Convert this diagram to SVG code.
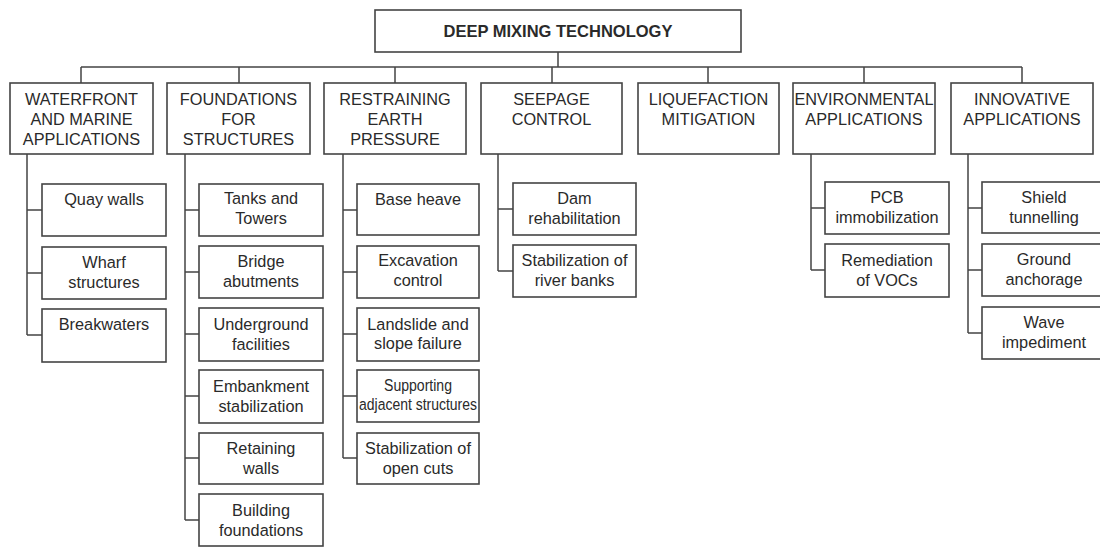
<svg xmlns="http://www.w3.org/2000/svg" width="1100" height="547" viewBox="0 0 1100 547">
<style>
.box{fill:#fff;stroke:#444;stroke-width:1.6}
.ln{fill:none;stroke:#444;stroke-width:1.5}
text{font-family:"Liberation Sans",Arial,sans-serif;fill:#2a2a2a;text-anchor:middle}
.h{font-size:16.3px}
.c{font-size:16.3px}
.t{font-size:16.5px;font-weight:bold}
</style>
<rect width="1100" height="547" fill="#fff"/>
<g id="connectors" class="ln">
<path d="M558 52V67M81 67H1022M81 67V83M239 67V83M395 67V83M552 67V83M708 67V83M864 67V83M1022 67V83"/>
<path d="M27 154V335M27 210H42M27 273H42M27 335H42"/>
<path d="M185 154V520M185 210H199M185 272H199M185 334H199M185 396H199M185 458H199M185 520H199"/>
<path d="M343 154V458M343 210H357M343 272H357M343 334H357M343 396H357M343 458H357"/>
<path d="M498 154V271M498 209H513M498 271H513"/>
<path d="M811 154V270M811 208H825M811 270H825"/>
<path d="M968 154V333M968 208H982M968 270H982M968 333H982"/>
</g>
<g id="title"><rect class="box" x="375" y="10" width="366" height="42"/><text class="t" x="558" y="37">DEEP MIXING TECHNOLOGY</text></g>
<g id="waterfront"><rect class="box" x="10" y="83" width="143" height="71"/><text class="h" x="81.5" y="105">WATERFRONT</text><text class="h" x="81.5" y="125">AND MARINE</text><text class="h" x="81.5" y="145">APPLICATIONS</text></g>
<g id="foundations"><rect class="box" x="167" y="83" width="143" height="71"/><text class="h" x="238.5" y="105">FOUNDATIONS</text><text class="h" x="238.5" y="125">FOR</text><text class="h" x="238.5" y="145">STRUCTURES</text></g>
<g id="restraining"><rect class="box" x="324" y="83" width="142" height="71"/><text class="h" x="395" y="105">RESTRAINING</text><text class="h" x="395" y="125">EARTH</text><text class="h" x="395" y="145">PRESSURE</text></g>
<g id="seepage"><rect class="box" x="481" y="83" width="141" height="71"/><text class="h" x="551.5" y="105">SEEPAGE</text><text class="h" x="551.5" y="125">CONTROL</text></g>
<g id="liquefaction"><rect class="box" x="638" y="83" width="141" height="71"/><text class="h" x="708.5" y="105">LIQUEFACTION</text><text class="h" x="708.5" y="125">MITIGATION</text></g>
<g id="environmental"><rect class="box" x="793" y="83" width="142" height="71"/><text class="h" x="864" y="105">ENVIRONMENTAL</text><text class="h" x="864" y="125">APPLICATIONS</text></g>
<g id="innovative"><rect class="box" x="951" y="83" width="142" height="71"/><text class="h" x="1022" y="105">INNOVATIVE</text><text class="h" x="1022" y="125">APPLICATIONS</text></g>

<g id="quay"><rect class="box" x="42" y="184" width="124" height="52"/><text class="c" x="104" y="205">Quay walls</text></g>
<g id="wharf"><rect class="box" x="42" y="247" width="124" height="52"/><text class="c" x="104" y="268">Wharf</text><text class="c" x="104" y="288">structures</text></g>
<g id="breakwaters"><rect class="box" x="42" y="309" width="124" height="53"/><text class="c" x="104" y="330">Breakwaters</text></g>

<g id="tanks"><rect class="box" x="199" y="184" width="124" height="52"/><text class="c" x="261" y="204">Tanks and</text><text class="c" x="261" y="224">Towers</text></g>
<g id="bridge"><rect class="box" x="199" y="246" width="124" height="52"/><text class="c" x="261" y="267">Bridge</text><text class="c" x="261" y="287">abutments</text></g>
<g id="underground"><rect class="box" x="199" y="308" width="124" height="53"/><text class="c" x="261" y="330">Underground</text><text class="c" x="261" y="350">facilities</text></g>
<g id="embankment"><rect class="box" x="199" y="370" width="124" height="53"/><text class="c" x="261" y="392">Embankment</text><text class="c" x="261" y="412">stabilization</text></g>
<g id="retaining"><rect class="box" x="199" y="433" width="124" height="51"/><text class="c" x="261" y="454">Retaining</text><text class="c" x="261" y="474">walls</text></g>
<g id="building"><rect class="box" x="199" y="494" width="124" height="52"/><text class="c" x="261" y="516">Building</text><text class="c" x="261" y="536">foundations</text></g>

<g id="baseheave"><rect class="box" x="357" y="184" width="122" height="51"/><text class="c" x="418" y="205">Base heave</text></g>
<g id="excavation"><rect class="box" x="357" y="246" width="122" height="52"/><text class="c" x="418" y="266">Excavation</text><text class="c" x="418" y="286">control</text></g>
<g id="landslide"><rect class="box" x="357" y="308" width="122" height="53"/><text class="c" x="418" y="330">Landslide and</text><text class="c" x="418" y="349">slope failure</text></g>
<g id="supporting"><rect class="box" x="357" y="370" width="122" height="52"/><text class="c" x="418" y="391" font-size="15" textLength="68" lengthAdjust="spacingAndGlyphs">Supporting</text><text class="c" x="418" y="410" font-size="15" textLength="118" lengthAdjust="spacingAndGlyphs">adjacent structures</text></g>
<g id="opencuts"><rect class="box" x="357" y="433" width="122" height="51"/><text class="c" x="418" y="454">Stabilization of</text><text class="c" x="418" y="474">open cuts</text></g>

<g id="dam"><rect class="box" x="513" y="183" width="123" height="52"/><text class="c" x="574.5" y="204">Dam</text><text class="c" x="574.5" y="224">rehabilitation</text></g>
<g id="riverbanks"><rect class="box" x="513" y="245" width="123" height="52"/><text class="c" x="574.5" y="266">Stabilization of</text><text class="c" x="574.5" y="286">river banks</text></g>

<g id="pcb"><rect class="box" x="825" y="182" width="124" height="52"/><text class="c" x="887" y="203">PCB</text><text class="c" x="887" y="223">immobilization</text></g>
<g id="vocs"><rect class="box" x="825" y="244" width="124" height="53"/><text class="c" x="887" y="266">Remediation</text><text class="c" x="887" y="286">of VOCs</text></g>

<g id="shield"><rect class="box" x="982" y="182" width="126" height="51"/><text class="c" x="1044" y="203">Shield</text><text class="c" x="1044" y="223">tunnelling</text></g>
<g id="anchorage"><rect class="box" x="982" y="244" width="126" height="52"/><text class="c" x="1044" y="265">Ground</text><text class="c" x="1044" y="285">anchorage</text></g>
<g id="wave"><rect class="box" x="982" y="307" width="126" height="52"/><text class="c" x="1044" y="328">Wave</text><text class="c" x="1044" y="348">impediment</text></g>
</svg>
